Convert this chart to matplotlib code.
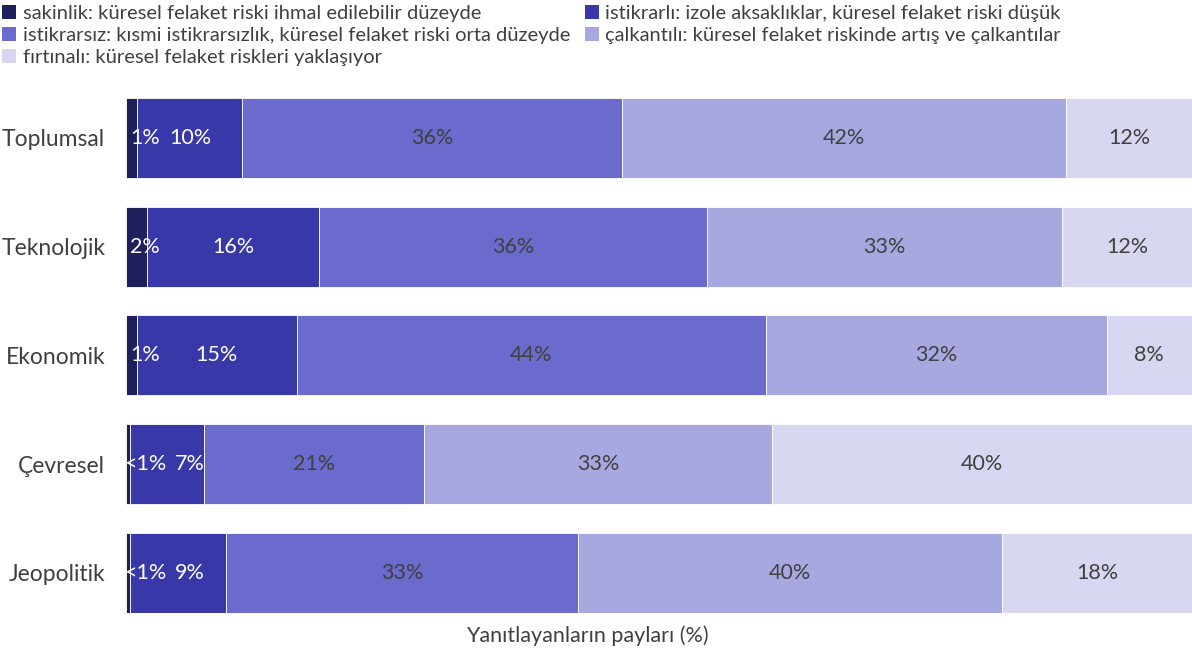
import matplotlib.pyplot as plt
from matplotlib.patches import Patch

plt.rcParams['font.family'] = ['Lato', 'DejaVu Sans']

categories = ['Toplumsal', 'Teknolojik', 'Ekonomik', 'Çevresel', 'Jeopolitik']
series_names = [
    'sakinlik: küresel felaket riski ihmal edilebilir düzeyde',
    'istikrarlı: izole aksaklıklar, küresel felaket riski düşük',
    'istikrarsız: kısmi istikrarsızlık, küresel felaket riski orta düzeyde',
    'çalkantılı: küresel felaket riskinde artış ve çalkantılar',
    'fırtınalı: küresel felaket riskleri yaklaşıyor',
]
# values per series (one per category)
sakinlik = [1.0, 2.0, 1.0, 0.4, 0.4]
istikrarli = [9.9, 16.1, 15.0, 6.9, 9.0]
istikrarsiz = [35.6, 36.4, 44.0, 20.7, 33.0]
calkantili = [41.7, 33.3, 32.0, 32.6, 39.8]
firtinali = [11.8, 12.2, 8.0, 39.4, 17.8]
values = [sakinlik, istikrarli, istikrarsiz, calkantili, firtinali]

labels = [
    ['1%', '2%', '1%', '<1%', '<1%'],
    ['10%', '16%', '15%', '7%', '9%'],
    ['36%', '36%', '44%', '21%', '33%'],
    ['42%', '33%', '32%', '33%', '40%'],
    ['12%', '12%', '8%', '40%', '18%'],
]

colors = ['#1f1f5e', '#3838a9', '#6a6bcc', '#a8a8e1', '#d7d7f1']
text_colors = ['white', 'white', '#404040', '#404040', '#404040']

fig = plt.figure(figsize=(11.92, 6.57), dpi=100)
ax = fig.add_axes([0.1057, 0.067, 0.8943, 0.7839])

y = list(range(len(categories)))
bar_h = 0.736
left = [0.0] * len(categories)
for s, vals in enumerate(values):
    ax.barh(y, vals, left=left, height=bar_h, color=colors[s],
            edgecolor='white', linewidth=0.6)
    for i, v in enumerate(vals):
        cx = left[i] + v / 2
        if s == 0:
            cx = 1.8
        elif s == 1:
            cx = max(cx, 6.0)
        ax.text(cx, y[i], labels[s][i], ha='center', va='center',
                color=text_colors[s], fontsize=15.5)
    left = [l + v for l, v in zip(left, vals)]

ax.set_xlim(0, 100)
ax.set_ylim(len(categories) - 1 + bar_h / 2, -bar_h / 2)
ax.set_yticks(y)
ax.set_yticklabels(categories, fontsize=16.5, color='#404040')
ax.set_xticks([])
ax.tick_params(axis='y', length=0, pad=15)
for sp in ax.spines.values():
    sp.set_visible(False)

fig.text(0.493, 0.032, 'Yanıtlayanların payları (%)', ha='center', va='center',
         fontsize=15.5, color='#404040')

handles = [Patch(facecolor=c) for c in colors]
leg_kw = dict(frameon=False, fontsize=14.5, handlelength=0.7, handleheight=0.7,
              handletextpad=0.3, labelspacing=0.24, borderaxespad=0, borderpad=0,
              labelcolor='#404040')
leg1 = fig.legend([handles[0], handles[2], handles[4]],
                  [series_names[0], series_names[2], series_names[4]],
                  loc='upper left', bbox_to_anchor=(0.002, 0.992), **leg_kw)
leg2 = fig.legend([handles[1], handles[3]],
                  [series_names[1], series_names[3]],
                  loc='upper left', bbox_to_anchor=(0.491, 0.992), **leg_kw)

fig.savefig('out.png', dpi=100)
